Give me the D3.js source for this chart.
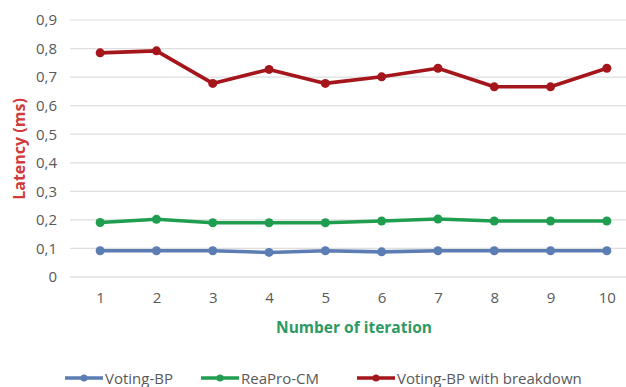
<!DOCTYPE html>
<html>
<head>
<meta charset="utf-8">
<script src="https://cdn.jsdelivr.net/npm/d3@7"></script>
<style>
  html, body { margin: 0; padding: 0; background: #fff; }
  svg { display: block; }
  text { font-family: "Open Sans", "Liberation Sans", sans-serif; }
</style>
</head>
<body>
<svg id="chart" width="626" height="387"></svg>
<script>
// Latency per iteration for the three configurations
const iterations = [1, 2, 3, 4, 5, 6, 7, 8, 9, 10];
const votingBP = [0.092, 0.092, 0.092, 0.086, 0.092, 0.088, 0.092, 0.092, 0.092, 0.092];
const reaProCM = [0.191, 0.202, 0.190, 0.190, 0.190, 0.196, 0.203, 0.196, 0.196, 0.196];
const votingBPBreakdown = [0.785, 0.792, 0.678, 0.727, 0.678, 0.701, 0.731, 0.666, 0.666, 0.731];
const yTicks = [0, 0.1, 0.2, 0.3, 0.4, 0.5, 0.6, 0.7, 0.8, 0.9];
const seriesNames = ["Voting-BP", "ReaPro-CM", "Voting-BP with breakdown"];
const seriesColors = ["#5b7db3", "#1f9e50", "#a4161b"];

const series = [
  { name: seriesNames[0], values: votingBP, color: seriesColors[0] },
  { name: seriesNames[1], values: reaProCM, color: seriesColors[1] },
  { name: seriesNames[2], values: votingBPBreakdown, color: seriesColors[2] }
];

const svg = d3.select("#chart");
const W = 626;

const x = d3.scalePoint().domain(iterations).range([72, 635]).padding(0.5);
const y = d3.scaleLinear().domain([0, 0.9]).range([277, 20]);

const fmt = v => v === 0 ? "0" : d3.format(".1f")(v).replace(".", ",");

// horizontal gridlines
svg.append("g").selectAll("line").data(yTicks).join("line")
  .attr("x1", 70).attr("x2", W)
  .attr("y1", d => y(d)).attr("y2", d => y(d))
  .attr("stroke", d => d === 0 ? "#cfcfcf" : "#dedede")
  .attr("stroke-width", 1.2);

// y axis labels
const yAxis = svg.append("g").attr("transform", "translate(57,0)")
  .call(d3.axisLeft(y).tickValues(yTicks).tickFormat(fmt).tickSize(0).tickPadding(0));
yAxis.select(".domain").remove();
yAxis.selectAll("text").attr("fill", "#595959").style("font-size", "15px")
  .style("font-family", "'Open Sans', sans-serif");

// x axis labels
const xAxis = svg.append("g").attr("transform", "translate(0,292.5)")
  .call(d3.axisBottom(x).tickSize(0).tickPadding(0));
xAxis.select(".domain").remove();
xAxis.selectAll("text").attr("fill", "#595959").style("font-size", "15px")
  .style("font-family", "'Open Sans', sans-serif");

// axis titles
svg.append("text")
  .attr("transform", "translate(25,149) rotate(-90)")
  .attr("text-anchor", "middle")
  .attr("fill", "#d23a3a")
  .style("font-size", "16px").style("font-weight", "bold")
  .text("Latency (ms)");

svg.append("text")
  .attr("x", 354).attr("y", 333)
  .attr("text-anchor", "middle")
  .attr("fill", "#2e9a63")
  .style("font-size", "15.5px").style("font-weight", "bold")
  .text("Number of iteration");

// series lines and markers
const line = d3.line().x((d, i) => x(iterations[i])).y(d => y(d));
const g = svg.append("g");
series.forEach(s => {
  g.append("path").datum(s.values)
    .attr("d", line)
    .attr("fill", "none")
    .attr("stroke", s.color)
    .attr("stroke-width", 3.6)
    .attr("stroke-linejoin", "round");
  g.append("g").selectAll("circle").data(s.values).join("circle")
    .attr("cx", (d, i) => x(iterations[i]))
    .attr("cy", d => y(d))
    .attr("r", 4.5)
    .attr("fill", s.color);
});

// legend
const legendX = [65, 201, 357];
const legend = svg.append("g");
series.forEach((s, i) => {
  const lg = legend.append("g").attr("transform", `translate(${legendX[i]},378)`);
  lg.append("line").attr("x1", 0).attr("x2", 38).attr("y1", 0).attr("y2", 0)
    .attr("stroke", s.color).attr("stroke-width", 3.5);
  lg.append("circle").attr("cx", 19).attr("cy", 0).attr("r", 3.5).attr("fill", s.color);
  lg.append("text").attr("x", 40).attr("y", 5.5)
    .attr("fill", "#595959").style("font-size", "15px")
    .text(s.name);
});
</script>
</body>
</html>
